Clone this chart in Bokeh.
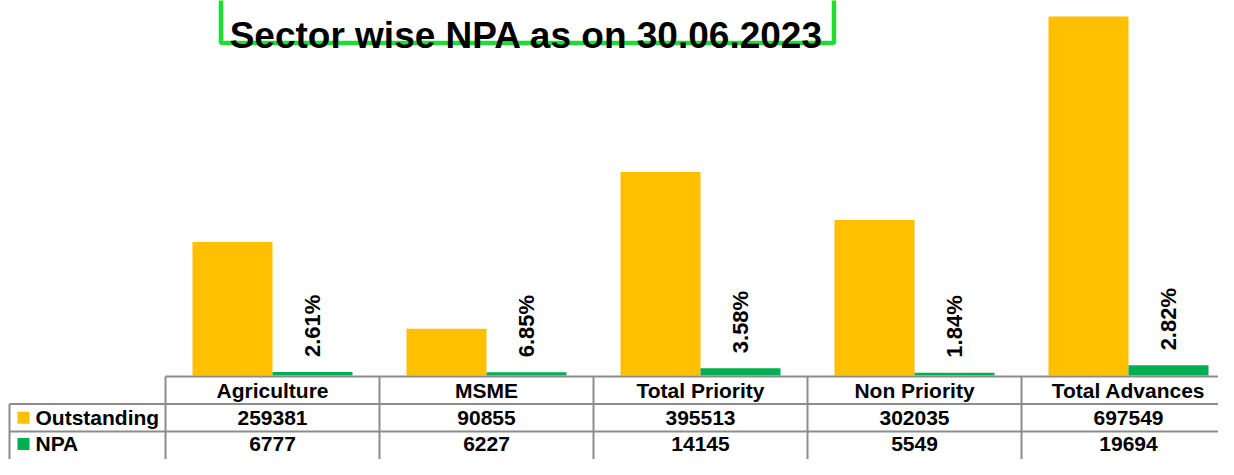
import math
from bokeh.plotting import figure
from bokeh.models import Range1d
from bokeh.core.properties import value
from bokeh.embed import file_html
from bokeh.resources import INLINE

# ---- data ----
categories = ["Agriculture", "MSME", "Total Priority", "Non Priority", "Total Advances"]
outstanding = [259381, 90855, 395513, 302035, 697549]
npa = [6777, 6227, 14145, 5549, 19694]
series_names = ["Outstanding", "NPA"]
title_text = "Sector wise NPA as on 30.06.2023"

# ---- layout constants (pixel geometry) ----
W, H = 1218, 459
COL0 = 165.0       # x of first table column edge
COLW = 214.0       # column width
BASE = 375.0       # bar baseline
TOP_PX = 16.0      # top of tallest bar
ROW0 = 376.0       # top of table
ROWH = 27.5        # table row height
FONT = value("Liberation Sans")
ORANGE = "#FFC000"
GREEN = "#00B050"
GRID = "#8C8C8C"


def xd(px):
    return (px - COL0) / COLW


def td(py):
    return (py - ROW0) / ROWH


upp = max(outstanding) / (BASE - TOP_PX)
y_start = -(H - BASE) * upp
y_end = BASE * upp

p = figure(width=W, height=H,
           x_range=Range1d(xd(0), xd(W)),
           y_range=Range1d(y_start, y_end),
           x_axis_type=None, y_axis_type=None,
           output_backend="svg", toolbar_location=None,
           min_border=0, outline_line_color=None,
           background_fill_color="white", border_fill_color="white")
p.grid.visible = False
p.extra_y_ranges = {"tbl": Range1d(start=td(H), end=td(0))}

n = len(categories)
xs = [i + 0.5 for i in range(n)]
bw = 80.0 / COLW

# bars
p.vbar(x=[x - bw / 2 for x in xs], top=outstanding, bottom=0, width=bw,
       fill_color=ORANGE, line_color=None)
p.vbar(x=[x + bw / 2 for x in xs], top=npa, bottom=0, width=bw,
       fill_color=GREEN, line_color=None)

# percentage labels
pct = [f"{b / a * 100:.2f}%" for a, b in zip(outstanding, npa)]
p.text(x=[x + bw / 2 for x in xs], y=npa, text=pct, angle=math.pi / 2,
       text_align="left", text_baseline="middle", y_offset=-15,
       text_font=FONT, text_font_style="bold", text_font_size="22px",
       text_color="black")

# ---- data table ----
right = n + 0.6
left_edge = xd(9)
# horizontal lines
p.segment(x0=[0, left_edge, left_edge], x1=[right, right, right],
          y0=[0, 1, 2], y1=[0, 1, 2], y_range_name="tbl",
          line_color=GRID, line_width=2)
# vertical lines
vx = list(range(n + 1)) + [left_edge]
vy0 = [0] * (n + 1) + [1]
p.segment(x0=vx, x1=vx, y0=vy0, y1=[3.5] * len(vx), y_range_name="tbl",
          line_color=GRID, line_width=2)

txt_kw = dict(text_font=FONT, text_font_style="bold", text_font_size="21px",
              text_color="black", text_baseline="middle", y_range_name="tbl")
row_y = [0.5, 1.5, 2.45]
p.text(x=xs, y=[row_y[0]] * n, text=categories, text_align="center", **txt_kw)
p.text(x=xs, y=[row_y[1]] * n, text=[str(v) for v in outstanding], text_align="center", **txt_kw)
p.text(x=xs, y=[row_y[2]] * n, text=[str(v) for v in npa], text_align="center", **txt_kw)
p.text(x=[xd(35)] * 2, y=row_y[1:], text=series_names, text_align="left", **txt_kw)
p.scatter(x=[xd(23)] * 2, y=row_y[1:], marker="square", size=12,
          fill_color=[ORANGE, GREEN], line_color=None, y_range_name="tbl")

# ---- title ----
p.quad(left=[xd(220.5)], right=[xd(833.5)], top=[td(-10)], bottom=[td(42.5)],
       fill_color=None, line_color="#1EDC32", line_width=4.5, y_range_name="tbl")
p.text(x=[xd(526)], y=[td(35)], text=[title_text], text_align="center",
       text_baseline="alphabetic", text_font=FONT, text_font_style="bold",
       text_font_size="37px", text_color="black", y_range_name="tbl")

open("out.html", "w").write(file_html(p, INLINE))
